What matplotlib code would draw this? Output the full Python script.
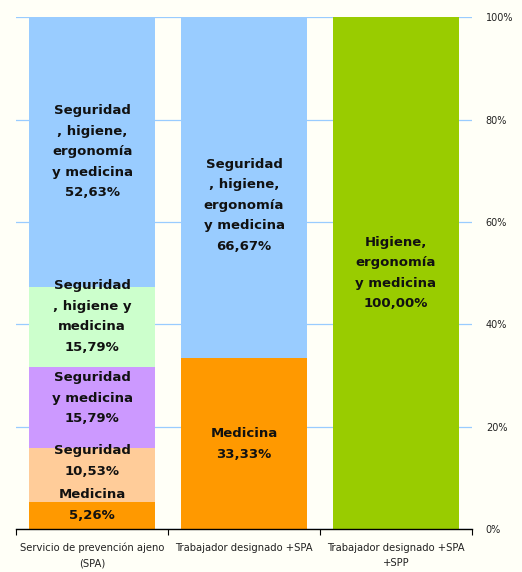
import matplotlib

matplotlib.use("Agg")
import matplotlib.pyplot as plt
from matplotlib.ticker import FixedLocator

categories = [
    "Servicio de prevención ajeno\n(SPA)",
    "Trabajador designado +SPA",
    "Trabajador designado +SPA\n+SPP",
]

# stacked segments per category, bottom to top
seg_names = [
    ["Medicina", "Seguridad", "Seguridad\ny medicina",
     "Seguridad\n, higiene y\nmedicina",
     "Seguridad\n, higiene,\nergonomía\ny medicina"],
    ["Medicina", "Seguridad\n, higiene,\nergonomía\ny medicina"],
    ["Higiene,\nergonomía\ny medicina"],
]
seg_values = [
    [5.26, 10.53, 15.79, 15.79, 52.63],
    [33.33, 66.67],
    [100.00],
]
seg_colors = [
    ["#FF9900", "#FFCC99", "#CC99FF", "#CCFFCC", "#99CCFF"],
    ["#FF9900", "#99CCFF"],
    ["#99CC00"],
]
# vertical nudges for the labels (percent points)
label_shift = [
    [2.1, 2.8, 1.9, 2.1, 0.0],
    [0.0, -3.4],
    [0.0],
]

bg = "#FFFFF7"
fig = plt.figure(figsize=(5.22, 5.72), dpi=100, facecolor=bg)
ax = fig.add_axes([0.031, 0.075, 0.873, 0.895], facecolor=bg)

for i, (names, vals, cols, shifts) in enumerate(
        zip(seg_names, seg_values, seg_colors, label_shift)):
    bottom = 0.0
    for name, v, c, s in zip(names, vals, cols, shifts):
        ax.bar(i, v, bottom=bottom, width=0.83, color=c, edgecolor="none", zorder=2)
        txt = f"{name}\n{v:.2f}%".replace(".", ",")
        ax.text(i, bottom + v / 2 + s, txt, ha="center", va="center",
                fontsize=9.5, fontweight="bold", color="#111111",
                linespacing=1.75, zorder=3)
        bottom += v

ax.set_xlim(-0.5, 2.5)
ax.set_ylim(0, 100)

ax.yaxis.tick_right()
ax.set_yticks(range(0, 101, 20))
ax.set_yticklabels([f"{t}%" for t in range(0, 101, 20)])
ax.tick_params(axis="y", length=0, labelsize=7, pad=10, colors="#222222")
ax.grid(axis="y", color="#99CCFF", lw=0.9, zorder=1)

ax.set_xticks(range(3))
ax.set_xticklabels(categories, fontsize=7.2, color="#222222", linespacing=1.6)
ax.tick_params(axis="x", which="major", length=0, pad=10)
ax.xaxis.set_minor_locator(FixedLocator([-0.5, 0.5, 1.5, 2.5]))
ax.tick_params(axis="x", which="minor", length=4, width=0.8, color="black")

for side in ["top", "right", "left"]:
    ax.spines[side].set_visible(False)
ax.spines["bottom"].set_color("black")
ax.spines["bottom"].set_linewidth(1.0)

fig.savefig("out.png", dpi=100, facecolor=bg)
